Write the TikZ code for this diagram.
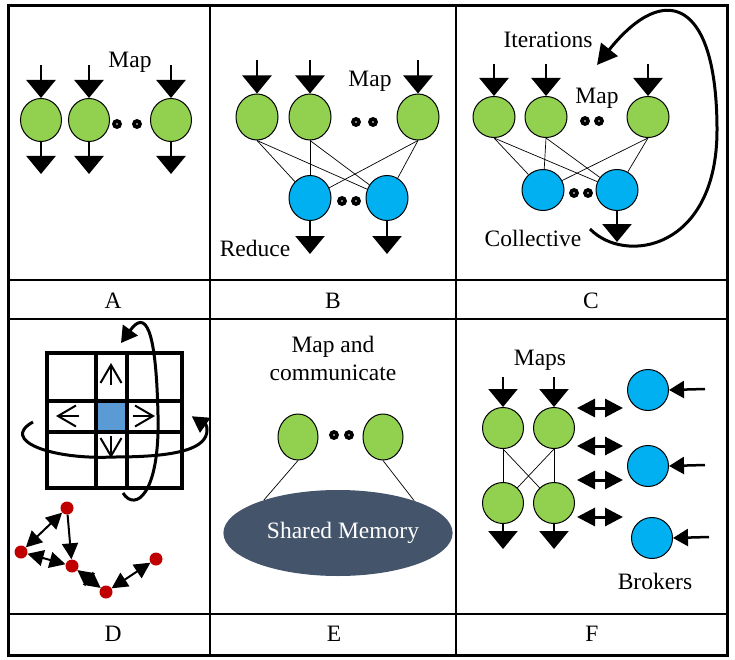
\documentclass[tikz,border=0pt]{standalone}
\usepackage{fontspec}
\setmainfont{Liberation Serif}
\usetikzlibrary{arrows.meta,shapes.geometric}

\definecolor{mapgreen}{HTML}{92D050}
\definecolor{reduceblue}{HTML}{00B0F0}
\definecolor{memgray}{HTML}{44546A}
\definecolor{cellblue}{HTML}{5B9BD5}
\definecolor{dotred}{HTML}{C00000}

\tikzset{
  mapnode/.style={ellipse, draw=black, line width=1pt, fill=mapgreen,
    minimum width=41pt, minimum height=43pt, inner sep=0pt},
  reducenode/.style={mapnode, fill=reduceblue},
  flow/.style={-{Triangle[width=29pt,length=18pt]}, line width=2.5pt},
  feed/.style={-{Triangle[width=17pt,length=15pt]}, line width=2.5pt},
  swap/.style={{Triangle[width=18pt,length=18pt]}-{Triangle[width=18pt,length=18pt]}, line width=3pt},
  hop/.style={{Triangle[width=16pt,length=16pt]}-{Triangle[width=16pt,length=16pt]}, line width=2pt},
  hopone/.style={-{Triangle[width=16pt,length=16pt]}, line width=2pt},
  orbit/.style={-{Triangle[width=18pt,length=16pt]}, line width=3pt},
  nudge/.style={-{Straight Barb[length=18pt,width=21pt]}, line width=2pt},
  link/.style={line width=0.7pt},
  dotdot/.style={circle, fill=black, minimum size=10pt, inner sep=0pt,
    path picture={\fill[white] (path picture bounding box.center) circle (0.9pt);}},
  reddot/.style={circle, fill=dotred, minimum size=13pt, inner sep=0pt},
  lbl/.style={font=\fontsize{23.5}{28}\selectfont, inner sep=0pt},
}

\begin{document}
\begin{tikzpicture}[x=1pt,y=-1pt]
    \useasboundingbox (0,0) rectangle (735,660);

    % 外框与分隔线
    \draw[line width=3pt] (8,6) rectangle (727,655);
    \draw[line width=1.5pt] (8,280) -- (727,280) (8,319) -- (727,319) (8,614) -- (727,614);
    \draw[line width=1.5pt] (210,6) -- (210,655) (456,6) -- (456,655);

    % 面板标签
    \foreach \t/\x/\y in {A/113/301, B/333/301, C/591/301, D/113/634, E/334/634, F/592/634}
        \node[lbl] (tag\t) at (\x,\y) {\t};

    % 面板A: Map
    \foreach \n/\x in {a1/41, a2/89, a3/171} {
        \node[mapnode] (\n) at (\x,120) {};
        \draw[flow] ([yshift=33pt]\n.north) -- (\n.north);
        \draw[flow] (\n.south) -- ([yshift=-32pt]\n.south);
    }
    \node[dotdot] (adot1) at (117,124) {};
    \node[dotdot] (adot2) at (137,124) {};
    \node[lbl] (amap) at (130,62) {Map};

    % 面板B: Map + Reduce
    \foreach \n/\x in {b1/257, b2/310, b3/418} {
        \node[mapnode, minimum width=42pt, minimum height=46pt] (\n) at (\x,117) {};
        \draw[flow] ([yshift=33pt]\n.north) -- (\n.north);
    }
    \foreach \n/\x in {r1/310, r2/387} {
        \node[reducenode, minimum width=42pt, minimum height=45pt] (\n) at (\x,198) {};
        \draw[flow] (\n.south) -- ([yshift=-33pt]\n.south);
    }
    \foreach \s in {b1,b2,b3}
        \foreach \t in {r1,r2}
            \draw[link] (\s.south) -- (\t);
    \node[dotdot] (bdot1) at (356,122) {};
    \node[dotdot] (bdot2) at (373,122) {};
    \node[dotdot] (bdot3) at (342,201) {};
    \node[dotdot] (bdot4) at (356,201) {};
    \node[lbl] (bmap) at (370,81) {Map};
    \node[lbl] (breduce) at (255,248) {Reduce};

    % 面板C: 迭代 + Collective
    \foreach \n/\x in {c1/494, c2/546, c3/648} {
        \node[mapnode, minimum width=42pt, minimum height=41pt] (\n) at (\x,117) {};
        \draw[flow] ([yshift=32pt]\n.north) -- (\n.north);
    }
    \foreach \n/\x in {k1/543, k2/617}
        \node[reducenode, minimum width=42pt, minimum height=41pt] (\n) at (\x,190) {};
    \draw[flow] (k2.south) -- ([yshift=-31pt]k2.south);
    \foreach \s in {c1,c2,c3}
        \foreach \t in {k1,k2}
            \draw[link] (\s.south) -- (\t);
    \node[dotdot] (cdot1) at (585,121) {};
    \node[dotdot] (cdot2) at (599,121) {};
    \node[dotdot] (cdot3) at (574,193) {};
    \node[dotdot] (cdot4) at (588,193) {};
    \node[lbl] (citer) at (548,40) {Iterations};
    \node[lbl] (cmap) at (597,98) {Map};
    \node[lbl] (ccoll) at (533,238) {Collective};
    \draw[-{Triangle[width=21pt,length=20pt]}, line width=3pt]
        (590,229) .. controls (625,265) and (717,250) .. (717,130)
        .. controls (717,0) and (665,-20) .. (597,65);

    % 面板D: 网格与点
    \fill[cellblue] (98,403) rectangle (125,430);
    \draw[line width=4pt] (47,353) rectangle (182,488);
    \draw[line width=4pt] (96,353) -- (96,488) (127,353) -- (127,488)
                          (47,401) -- (182,401) (47,432) -- (182,432);
    \draw[nudge] (111,385) -- (111,363);
    \draw[nudge] (79,416) -- (56,416);
    \draw[nudge] (133,416) -- (155,416);
    \draw[nudge] (111,436) -- (111,458);
    \draw[orbit] (33,422) .. controls (0,440) and (50,460) .. (114,457)
        .. controls (180,457) and (207,448) .. (207,430)
        .. controls (207,422) and (201,420) .. (200,433);
    \draw[orbit] (123,493) .. controls (135,512) and (160,495) .. (158,415)
        .. controls (156,325) and (145,310) .. (121,343);

    \node[reddot] (p1) at (67,508) {};
    \node[reddot] (p2) at (21,552) {};
    \node[reddot] (p3) at (72,566) {};
    \node[reddot] (p4) at (106,592) {};
    \node[reddot] (p5) at (156,559) {};
    \draw[hop] (p1) -- (p2);
    \draw[hopone] (p1) -- (p3);
    \draw[hop] (p2) -- (p3);
    \draw[hop] (p3) -- (p4);
    \draw[hop] (p4) -- (p5);

    % 面板E: 共享内存
    \node[lbl, align=center] (etitle) at (333,358) {Map and\\communicate};
    \node[mapnode, minimum width=40pt, minimum height=46pt] (e1) at (298,437) {};
    \node[mapnode, minimum width=40pt, minimum height=46pt] (e2) at (383,437) {};
    \node[dotdot] (edot1) at (334,435) {};
    \node[dotdot] (edot2) at (349,435) {};
    \node[ellipse, fill=memgray, minimum width=198pt, minimum height=86pt,
        inner sep=0pt, text=white, font=\fontsize{23.5}{28}\selectfont] (mem) at (338,533) {\hspace{10pt}Shared Memory};
    \draw[link] (e1.south) -- (mem.156);
    \draw[link] (e2.south) -- (mem.23);

    % 面板F: Maps + Brokers
    \foreach \n/\x/\y in {f1/503/428, f2/554/428, f3/503/503, f4/554/503}
        \node[mapnode, minimum width=41pt, minimum height=41pt] (\n) at (\x,\y) {};
    \draw[flow] ([yshift=30pt]f1.north) -- (f1.north);
    \draw[flow] ([yshift=30pt]f2.north) -- (f2.north);
    \draw[flow] (f3.south) -- ([yshift=-25pt]f3.south);
    \draw[flow] (f4.south) -- ([yshift=-25pt]f4.south);
    \draw[link] (f1.south) -- (f3.north);
    \draw[link] (f2.south) -- (f4.north);
    \draw[link] (f1.south) -- (f4);
    \draw[link] (f2.south) -- (f3);
    \foreach \i/\y in {1/408, 2/446, 3/480, 4/517} {
        \coordinate (sl\i) at (577,\y);
        \coordinate (sr\i) at (623,\y);
        \draw[swap] (sl\i) -- (sr\i);
    }
    \foreach \n/\x/\y in {q1/648/390, q2/648/466, q3/652/538} {
        \node[reducenode, minimum width=41pt, minimum height=41pt] (\n) at (\x,\y) {};
        \draw[feed] ([xshift=36pt,yshift=1pt]\n.east) -- (\n.east);
    }
    \node[lbl] (fmaps) at (540,360) {Maps};
    \node[lbl] (fbrokers) at (655,581) {Brokers};

\end{tikzpicture}
\end{document}
